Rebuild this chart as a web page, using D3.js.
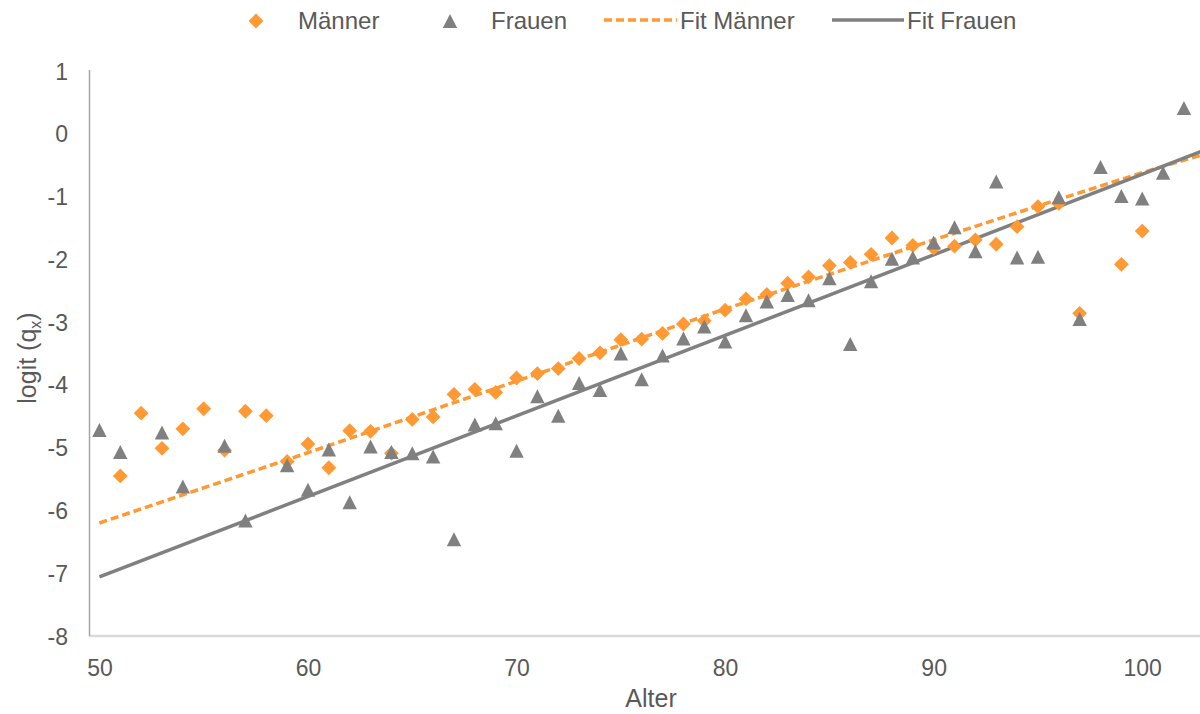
<!DOCTYPE html>
<html>
<head>
<meta charset="utf-8">
<script src="https://cdn.jsdelivr.net/npm/d3@7"></script>
<style>
  html, body { margin: 0; padding: 0; background: #fff; }
  svg { display: block; font-family: "Liberation Sans", Arial, sans-serif; }
</style>
</head>
<body>
<svg id="chart" width="1200" height="714"></svg>
<script>
// Observed logit(q_x) by age, men
const maleAges = [51,52,53,54,55,56,57,58,59,60,61,62,63,64,65,66,67,68,69,70,
  71,72,73,74,75,76,77,78,79,80,81,82,83,84,85,86,87,88,89,90,91,92,93,94,95,96,97,99,100];
const maleLogit = [-5.45,-4.45,-5.01,-4.70,-4.38,-5.04,-4.42,-4.49,-5.22,-4.94,
  -5.32,-4.73,-4.74,-5.09,-4.55,-4.51,-4.15,-4.07,-4.12,-3.89,
  -3.82,-3.74,-3.58,-3.49,-3.28,-3.27,-3.18,-3.03,-2.98,-2.81,
  -2.63,-2.56,-2.38,-2.28,-2.10,-2.05,-1.92,-1.66,-1.78,-1.82,
  -1.79,-1.69,-1.76,-1.48,-1.16,-1.11,-2.86,-2.08,-1.55];

// Observed logit(q_x) by age, women
const femaleAges = [50,51,53,54,56,57,59,60,61,62,63,64,65,66,67,68,69,70,
  71,72,73,74,75,76,77,78,79,80,81,82,83,84,85,86,87,88,89,90,
  91,92,93,94,95,96,97,98,99,100,101,102];
const femaleLogit = [-4.72,-5.07,-4.76,-5.62,-4.97,-6.16,-5.28,-5.67,-5.03,-5.87,-4.98,-5.07,-5.09,-5.14,-6.46,-4.63,-4.61,-5.05,
  -4.18,-4.49,-3.97,-4.08,-3.50,-3.91,-3.53,-3.26,-3.07,-3.31,-2.89,-2.67,-2.57,-2.65,-2.30,-3.35,-2.35,-1.99,-1.97,-1.73,
  -1.49,-1.87,-0.76,-1.97,-1.96,-1.01,-2.95,-0.53,-0.99,-1.03,-0.62,0.41];

// Fitted curves
const fitMaleAges = [50,60,70,80,90,95,100,103];
const fitMaleLogit = [-6.20,-5.08,-3.94,-2.79,-1.69,-1.15,-0.62,-0.32];
const fitFemaleAges = [50,103];
const fitFemaleLogit = [-7.06,-0.26];

// Axis ticks
const xTicks = [50,60,70,80,90,100];
const yTicks = [1,0,-1,-2,-3,-4,-5,-6,-7,-8];

const seriesNames = ["Männer","Frauen","Fit Männer","Fit Frauen"];

const ORANGE = "#FF9933";
const GREY = "#808080";
const TEXT = "#595959";

const svg = d3.select("#chart");
const plotLeft = 89, plotRight = 1200, plotTop = 71, plotBottom = 636;

const x = d3.scaleLinear().domain([49.5, 102.77]).range([plotLeft, plotRight]);
const y = d3.scaleLinear().domain([1, -8]).range([plotTop, plotBottom]);

svg.append("defs").append("clipPath").attr("id", "plotClip")
  .append("rect").attr("x", plotLeft).attr("y", plotTop - 20)
  .attr("width", plotRight - plotLeft).attr("height", plotBottom - plotTop + 20);

// Axes (plain hyphen-minus in labels)
const plainNumber = d => String(d);
const xAxis = d3.axisBottom(x).tickValues(xTicks).tickSize(0).tickPadding(0).tickFormat(plainNumber);
const gx = svg.append("g").attr("transform", `translate(0,${plotBottom})`).call(xAxis);
gx.select(".domain").remove();
gx.selectAll("text").attr("y", 40).attr("dy", null)
  .style("font-size", "23px").style("fill", TEXT);

const yAxis = d3.axisLeft(y).tickValues(yTicks).tickSize(0).tickPadding(0).tickFormat(plainNumber);
const gy = svg.append("g").attr("transform", `translate(68,0)`).call(yAxis);
gy.select(".domain").remove();
gy.selectAll("text").attr("x", 0).attr("dy", "0.35em")
  .style("font-size", "23px").style("fill", TEXT);

svg.append("line").attr("x1", plotLeft).attr("x2", plotRight).attr("y1", plotBottom).attr("y2", plotBottom)
  .attr("stroke", "#d9d9d9").attr("stroke-width", 2.5);
svg.append("line").attr("x1", plotLeft + 0.5).attr("x2", plotLeft + 0.5).attr("y1", plotTop - 1).attr("y2", plotBottom)
  .attr("stroke", "#a6a6a6").attr("stroke-width", 1.5);

// Axis titles
svg.append("text").attr("x", 651).attr("y", 707).attr("text-anchor", "middle")
  .style("font-size", "25px").style("fill", TEXT).text("Alter");

const yt = svg.append("text").attr("transform", "translate(36,358) rotate(-90)")
  .attr("text-anchor", "middle").style("font-size", "25px").style("fill", TEXT);
yt.append("tspan").text("logit (q");
yt.append("tspan").attr("dy", 5).style("font-size", "16px").text("x");
yt.append("tspan").attr("dy", -5).text(")");

// Fit lines
const line = d3.line().x(d => x(d[0])).y(d => y(d[1]));
const plot = svg.append("g").attr("clip-path", "url(#plotClip)");
plot.append("path").datum(d3.zip(fitMaleAges, fitMaleLogit)).attr("d", line)
  .attr("fill", "none").attr("stroke", ORANGE).attr("stroke-width", 3.5).attr("stroke-dasharray", "8,4");
plot.append("path").datum(d3.zip(fitFemaleAges, fitFemaleLogit)).attr("d", line)
  .attr("fill", "none").attr("stroke", GREY).attr("stroke-width", 3.5);

// Marker shapes
const diamond = "M0,-7.4L7.4,0L0,7.4L-7.4,0Z";
const triangle = "M0,-7L7.2,7L-7.2,7Z";

svg.append("g").selectAll("path").data(d3.zip(maleAges, maleLogit)).join("path")
  .attr("d", diamond).attr("fill", ORANGE)
  .attr("transform", d => `translate(${x(d[0])},${y(d[1])})`);
svg.append("g").selectAll("path").data(d3.zip(femaleAges, femaleLogit)).join("path")
  .attr("d", triangle).attr("fill", GREY)
  .attr("transform", d => `translate(${x(d[0])},${y(d[1])})`);

// Legend
const lg = svg.append("g").style("font-size", "24px").style("fill", TEXT);
lg.append("path").attr("d", diamond).attr("fill", ORANGE).attr("transform", "translate(256,21)");
lg.append("text").attr("x", 298).attr("y", 29).text(seriesNames[0]);
lg.append("path").attr("d", triangle).attr("fill", GREY).attr("transform", "translate(450,21)");
lg.append("text").attr("x", 491).attr("y", 29).text(seriesNames[1]);
lg.append("line").attr("x1", 604).attr("x2", 677).attr("y1", 20).attr("y2", 20)
  .attr("stroke", ORANGE).attr("stroke-width", 3.5).attr("stroke-dasharray", "8,4");
lg.append("text").attr("x", 680).attr("y", 29).text(seriesNames[2]);
lg.append("line").attr("x1", 832).attr("x2", 904).attr("y1", 20).attr("y2", 20)
  .attr("stroke", GREY).attr("stroke-width", 3.5);
lg.append("text").attr("x", 907).attr("y", 29).text(seriesNames[3]);
</script>
</body>
</html>
